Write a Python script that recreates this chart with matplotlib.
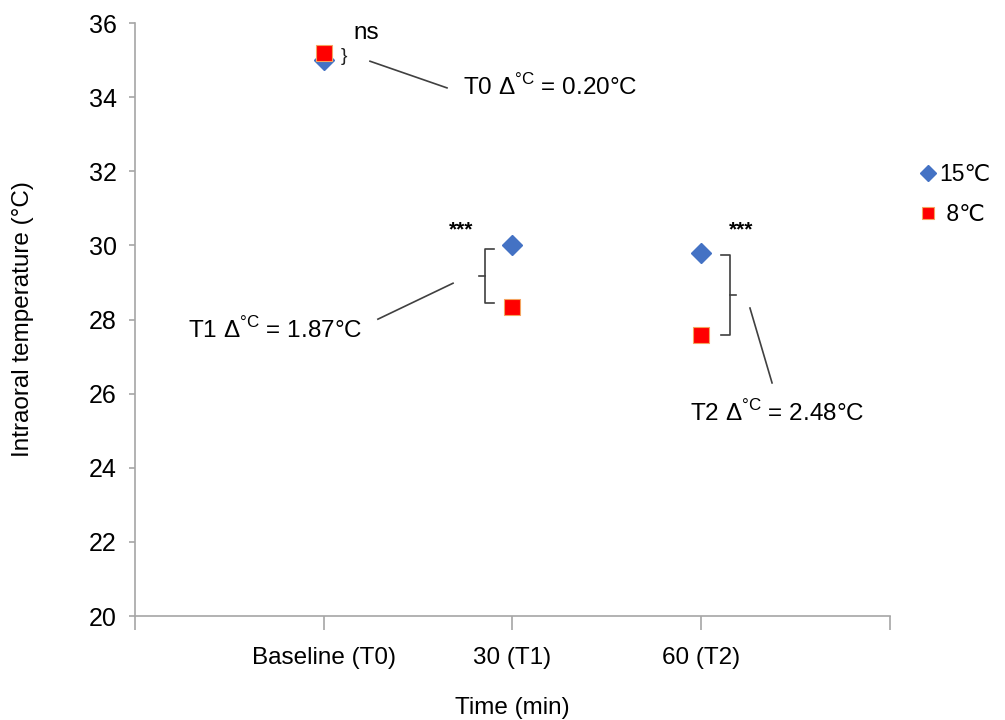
import matplotlib
matplotlib.use("Agg")
import matplotlib.pyplot as plt

plt.rcParams['font.family'] = ['Liberation Sans', 'DejaVu Sans']
plt.rcParams['mathtext.fontset'] = 'custom'
plt.rcParams['mathtext.rm'] = 'Liberation Sans'

# ---- data ----
categories = ['Baseline (T0)', '30 (T1)', '60 (T2)']
temp_15 = [35.0, 30.0, 29.8]
temp_8 = [35.2, 28.35, 27.58]
delta_labels = ['0.20', '1.87', '2.48']
time_tags = ['T0', 'T1', 'T2']
significance = ['ns', '***', '***']
y_ticks = [20, 22, 24, 26, 28, 30, 32, 34, 36]

AX_COL = '#a6a6a6'

fig = plt.figure(figsize=(10.05, 7.2), dpi=100)
ax = fig.add_axes([0.1343, 0.1444, 0.7513, 0.8236])

xs = [1, 2, 3]
ax.plot(xs, temp_15, linestyle='none', marker='D', markersize=10.5,
        color='#4472C4', markeredgecolor='#4472C4', label='15\u2103', zorder=3)
ax.plot(xs, temp_8, linestyle='none', marker='s', markersize=12,
        color='#FF0000', markeredgecolor='#F4A460', markeredgewidth=0.8,
        label=' 8\u2103', zorder=4)

ax.set_xlim(0, 4)
ax.set_ylim(20, 36)
ax.set_yticks(y_ticks)
ax.set_yticklabels([str(v) for v in y_ticks], fontsize=18)
ax.set_xticks([0, 1, 2, 3, 4])
ax.set_xticklabels([''] + categories + [''], fontsize=17.5)
ax.tick_params(axis='x', length=10, width=1.2, color=AX_COL, pad=12)
ax.tick_params(axis='y', length=4, width=1.2, color=AX_COL, pad=9)
for s in ['top', 'right']:
    ax.spines[s].set_visible(False)
for s in ['left', 'bottom']:
    ax.spines[s].set_color(AX_COL)
    ax.spines[s].set_linewidth(1.2)

ax.set_ylabel('Intraoral temperature (\u00b0C)', fontsize=17.5)
ax.set_xlabel('Time (min)', fontsize=17.5)
ax.yaxis.set_label_coords(-0.134, 0.5)
ax.xaxis.set_label_coords(0.5, -0.136)

LC = '#404040'
# baseline brace
ax.text(xs[0] + 0.09, (temp_15[0] + temp_8[0]) / 2, '}', fontsize=14,
        ha='left', va='center', color='#222222')

# bracket helper
def bracket(x0, y_top, y_bot, direction):
    # direction = -1 -> '{' (spike left, hooks right); +1 -> '}'
    hook = 0.045 * -direction
    spike = 0.035 * direction
    ym = (y_top + y_bot) / 2
    ax.plot([x0 + hook, x0, x0, x0 + hook], [y_top, y_top, y_bot, y_bot],
            color=LC, lw=1.2, solid_joinstyle='round')
    ax.plot([x0, x0 + spike], [ym, ym], color=LC, lw=1.2)

bracket(xs[1] - 0.145, temp_15[1] - 0.1, temp_8[1] + 0.1, -1)
bracket(xs[2] + 0.15, temp_15[2] - 0.05, temp_8[2], +1)

# connector lines
ax.plot([1.245, 1.653], [34.97, 34.25], color=LC, lw=1.2)
ax.plot([1.685, 1.287], [28.98, 28.01], color=LC, lw=1.2)
ax.plot([3.258, 3.375], [28.31, 26.29], color=LC, lw=1.2)

# delta labels
label_pos = [(1.738, 34.27), (0.281, 27.72), (2.94, 25.48)]
for (lx, ly), tag, d in zip(label_pos, time_tags, delta_labels):
    ax.text(lx, ly, tag + ' \u0394$^{\\mathrm{\u00b0C}}$ = ' + d + '\u00b0C',
            fontsize=17.5, ha='left', va='center', color='black')

# significance marks
sig_pos = [(1.155, 35.73), (1.727, 30.41), (3.21, 30.41)]
for (sx, sy), s in zip(sig_pos, significance):
    if s == 'ns':
        ax.text(sx, sy, s, fontsize=17.5, ha='left', va='center')
    else:
        ax.text(sx, sy, s, fontsize=15, fontweight='bold', ha='center', va='center')

ax.legend(loc='center left', bbox_to_anchor=(0.903, 0.73), bbox_transform=fig.transFigure,
          frameon=False, fontsize=16.5, handletextpad=0.0, labelspacing=0.75,
          handlelength=1.0, borderaxespad=0, markerscale=0.75)

fig.savefig('out.png', dpi=100)
